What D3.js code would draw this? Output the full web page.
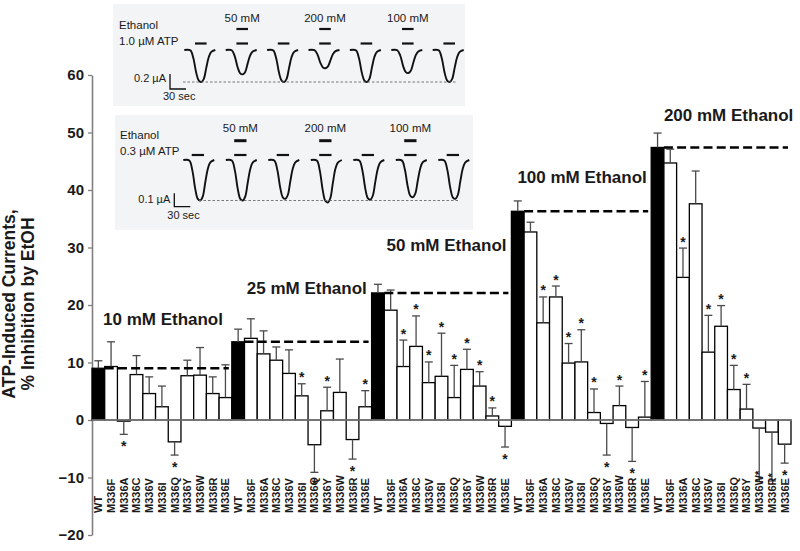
<!DOCTYPE html>
<html><head><meta charset="utf-8">
<script src="https://cdn.jsdelivr.net/npm/d3@7"></script>
<style>
body{margin:0;background:#fff}
svg{display:block}
text{font-family:"Liberation Sans",Arial,Helvetica,sans-serif;fill:#1a1a1a}
</style>
</head><body><svg id="c" width="800" height="551"></svg>
<script>
// ---------- data ----------
const categories = ["WT","M336F","M336A","M336C","M336V","M336I","M336Q","M336Y","M336W","M336R","M336E"];
const groupNames = ["10 mM Ethanol","25 mM Ethanol","50 mM Ethanol","100 mM Ethanol","200 mM Ethanol"];
const inhib10  = [9.0, 9.3, -0.2, 7.9, 4.6, 2.3, -3.8, 7.7, 7.8, 4.6, 3.9];
const sem10    = [1.3, 4.3, 2.3, 3.3, 2.9, 3.6, 2.3, 2.7, 4.8, 2.9, 5.7];
const sig10    = [0,0,1,0,0,0,1,0,0,0,0];
const inhib25  = [13.6, 14.2, 11.5, 10.4, 8.1, 4.2, -4.3, 1.6, 4.8, -3.4, 2.3];
const sem25    = [2.2, 3.4, 4.0, 2.3, 4.1, 2.1, 4.8, 4.1, 5.8, 3.4, 2.8];
const sig25    = [0,0,0,0,0,1,1,1,0,1,1];
const inhib50  = [22.1, 19.1, 9.3, 12.8, 6.5, 7.6, 3.9, 8.8, 5.9, 0.7, -1.1];
const sem50    = [1.5, 3.5, 4.6, 5.3, 3.6, 7.5, 5.6, 3.5, 2.5, 1.4, 3.6];
const sig50    = [0,0,1,1,1,1,1,1,1,1,1];
const inhib100 = [36.3, 32.7, 16.9, 21.4, 9.9, 10.1, 1.3, -0.6, 2.5, -1.3, 0.5];
const sem100   = [1.8, 1.7, 4.5, 1.9, 3.4, 5.6, 4.1, 5.5, 3.4, 5.9, 6.2];
const sig100   = [0,0,1,1,1,1,1,1,1,1,1];
const inhib200 = [47.4, 44.7, 24.8, 37.6, 11.8, 16.3, 5.3, 1.9, -1.4, -2.1, -4.2];
const sem200   = [2.5, 2.4, 5.1, 5.7, 6.4, 3.6, 4.2, 4.3, 9.3, 8.5, 3.3];
const sig200   = [0,0,1,0,1,1,1,1,2,2,1];   // 2 = star placed in tick label
const yTicks   = [-20,-10,0,10,20,30,40,50,60];
const yTitle   = ["ATP-Induced Currents,","% Inhibition by EtOH"];

// inset traces (relative peak amplitude of ATP currents)
const inset1Amp = [1.0, 0.76, 1.0, 0.57, 1.0, 0.72, 1.0];
const inset2Amp = [1.0, 1.0, 0.96, 1.05, 0.98, 0.92, 0.96];
const ethLabels = ["", "50 mM", "", "200 mM", "", "100 mM", ""];
const inset1Text = {eth:"Ethanol", atp:"1.0 \u00b5M ATP", amp:"0.2 \u00b5A", time:"30 sec"};
const inset2Text = {eth:"Ethanol", atp:"0.3 \u00b5M ATP", amp:"0.1 \u00b5A", time:"30 sec"};

// ---------- layout ----------
const svg = d3.select("#c");
const inhib = [inhib10, inhib25, inhib50, inhib100, inhib200];
const sems  = [sem10, sem25, sem50, sem100, sem200];
const sigs  = [sig10, sig25, sig50, sig100, sig200];
const bars = [];
groupNames.forEach((g, gi) => categories.forEach((c, ci) => {
  bars.push({key: gi + "-" + ci, g: gi, c: ci, cat: c, v: inhib[gi][ci], e: sems[gi][ci], s: sigs[gi][ci]});
}));

const x = d3.scaleBand().domain(bars.map(d => d.key)).range([92, 791]).padding(0);
const y = d3.scaleLinear().domain([-20, 60]).range([535, 75]);

// ---------- insets ----------
function drawInset(opt) {
  const gI = svg.append("g");
  gI.append("rect").attr("x", opt.x0).attr("y", opt.y0).attr("width", opt.w).attr("height", opt.h)
    .attr("fill", "#f3f4f6");
  gI.append("text").attr("x", opt.tx).attr("y", opt.ethY).attr("font-size", 11.5).text(opt.text.eth);
  gI.append("text").attr("x", opt.tx).attr("y", opt.atpY).attr("font-size", 11.5).text(opt.text.atp);
  const shape = [[0,0],[6,0.01],[9,0.25],[12,0.72],[14.5,0.96],[17,1],[19.5,0.9],[22,0.55],[24.5,0.22],[27,0.06],[31,0]];
  const line = d3.line().curve(d3.curveCatmullRom);
  opt.amp.forEach((a, i) => {
    const sx = opt.start + i * opt.step;
    gI.append("path").attr("d", line(shape.map(p => [sx + p[0], opt.base + p[1] * opt.depth * a])))
      .attr("fill", "none").attr("stroke", "#111").attr("stroke-width", 1.9);
    gI.append("line").attr("x1", sx + opt.barA).attr("x2", sx + opt.barB)
      .attr("y1", opt.atpBarY).attr("y2", opt.atpBarY).attr("stroke", "#111").attr("stroke-width", 2.2);
    if (ethLabels[i]) {
      gI.append("line").attr("x1", sx + opt.barA).attr("x2", sx + opt.barB)
        .attr("y1", opt.ethBarY).attr("y2", opt.ethBarY).attr("stroke", "#111").attr("stroke-width", opt.ethW);
      gI.append("text").attr("x", sx + (opt.barA + opt.barB) / 2).attr("y", opt.ethTextY)
        .attr("text-anchor", "middle").attr("font-size", 11.5).text(ethLabels[i]);
    }
  });
  gI.append("line").attr("x1", opt.dashA).attr("x2", opt.dashB).attr("y1", opt.base + opt.depth)
    .attr("y2", opt.base + opt.depth).attr("stroke", "#666").attr("stroke-width", 0.9).attr("stroke-dasharray", "2.5,2");
  // scale bar
  gI.append("path").attr("d", `M${opt.sbx},${opt.sby0}V${opt.sby1}H${opt.sbx + 16}`)
    .attr("fill", "none").attr("stroke", "#111").attr("stroke-width", 1.3);
  gI.append("text").attr("x", opt.sbx - 4).attr("y", opt.ampY).attr("text-anchor", "end").attr("font-size", 11).text(opt.text.amp);
  gI.append("text").attr("x", opt.sbx - 7).attr("y", opt.timeY).attr("font-size", 11).text(opt.text.time);
}
drawInset({x0:113, y0:4, w:352, h:102, tx:119, ethY:29, atpY:45, text:inset1Text, amp:inset1Amp,
  start:184.3, step:41.4, base:50, depth:32, barA:10.7, barB:22.3, atpBarY:43.5, ethBarY:29, ethW:2.2, ethTextY:21.5,
  dashA:183, dashB:457, sbx:170, sby0:74, sby1:89, ampY:82, timeY:100});
drawInset({x0:115, y0:115, w:358, h:115, tx:120, ethY:138.5, atpY:155, text:inset2Text, amp:inset2Amp,
  start:183.3, step:42.5, base:160, depth:40.5, barA:8.4, barB:20.7, atpBarY:155, ethBarY:140.7, ethW:3, ethTextY:131.5,
  dashA:199, dashB:458, sbx:174.3, sby0:193.3, sby1:206.7, ampY:203, timeY:219});

// ---------- axis ----------
const yAxis = svg.append("g").attr("transform", "translate(92,0)")
  .call(d3.axisLeft(y).tickValues(yTicks).tickSize(4).tickSizeOuter(0).tickPadding(4));
yAxis.select(".domain").attr("stroke", "#808080").attr("stroke-width", 1.6);
yAxis.selectAll(".tick line").attr("stroke", "#808080").attr("stroke-width", 1.3);
yAxis.selectAll(".tick text").attr("font-size", 15).attr("font-weight", "bold").attr("fill", "#1a1a1a")
  .attr("font-family", "'Liberation Sans',Arial,sans-serif");

yTitle.forEach((t, i) => {
  svg.append("text").attr("transform", `translate(${i === 0 ? 15 : 34},304) rotate(-90)`)
    .attr("text-anchor", "middle").attr("font-size", 17.5).attr("font-weight", "bold").text(t);
});

// ---------- bars ----------
const gB = svg.append("g");
gB.selectAll("rect.bar").data(bars).join("rect").attr("class", "bar")
  .attr("x", d => x(d.key)).attr("width", x.bandwidth())
  .attr("y", d => y(Math.max(0, d.v))).attr("height", d => Math.abs(y(d.v) - y(0)))
  .attr("fill", d => d.c === 0 ? "#000" : "#fff").attr("stroke", "#000").attr("stroke-width", 1.3);

// error bars (one-sided)
const eb = gB.selectAll("g.err").data(bars).join("g").attr("class", "err");
const tipY = d => y(d.v >= 0 ? d.v + d.e : d.v - d.e);
eb.append("line").attr("x1", d => x(d.key) + x.bandwidth() / 2).attr("x2", d => x(d.key) + x.bandwidth() / 2)
  .attr("y1", d => y(d.v)).attr("y2", tipY).attr("stroke", "#4a4a4a").attr("stroke-width", 1.3);
eb.append("line").attr("x1", d => x(d.key) + x.bandwidth() / 2 - 4).attr("x2", d => x(d.key) + x.bandwidth() / 2 + 4)
  .attr("y1", tipY).attr("y2", tipY).attr("stroke", "#4a4a4a").attr("stroke-width", 1.3);

// zero line
svg.append("line").attr("x1", 92).attr("x2", 792).attr("y1", y(0)).attr("y2", y(0))
  .attr("stroke", "#808080").attr("stroke-width", 1.5);

// significance stars
gB.selectAll("text.star").data(bars.filter(d => d.s === 1)).join("text").attr("class", "star")
  .attr("x", d => x(d.key) + x.bandwidth() / 2)
  .attr("y", d => d.v >= 0 ? tipY(d) - 1.5 : tipY(d) + 17)
  .attr("text-anchor", "middle").attr("font-size", 14).attr("font-weight", "bold").text("*");

// WT reference dashed lines + group labels
const groupLabelPos = [{dx:11, v:16.5}, {dx:15, v:21.9}, {dx:15, v:29.4}, {dx:6, v:41.2}, {dx:0, v:52.0}];
groupNames.forEach((g, gi) => {
  const wt = bars.find(d => d.g === gi && d.c === 0);
  const last = bars.find(d => d.g === gi && d.c === categories.length - 1);
  svg.append("line").attr("x1", x(wt.key) + x.bandwidth()).attr("x2", x(last.key) + x.bandwidth() - 3)
    .attr("y1", y(wt.v)).attr("y2", y(wt.v)).attr("stroke", "#000").attr("stroke-width", 2.4)
    .attr("stroke-dasharray", "9,4.2");
  svg.append("text").attr("x", x(wt.key) + (gi === 4 ? x.bandwidth() : groupLabelPos[gi].dx))
    .attr("y", y(groupLabelPos[gi].v)).attr("font-size", 17).attr("font-weight", "bold").text(g);
});

// category labels
svg.selectAll("text.cat").data(bars).join("text").attr("class", "cat")
  .attr("transform", d => `translate(${x(d.key) + x.bandwidth() / 2},513) rotate(-90)`)
  .attr("dy", "0.36em").attr("font-size", 11).attr("font-weight", "bold")
  .style("font-family", "'Liberation Sans Narrow','Arial Narrow',sans-serif")
  .text(d => d.cat + (d.s === 2 ? "*" : ""));
</script>
</body></html>
